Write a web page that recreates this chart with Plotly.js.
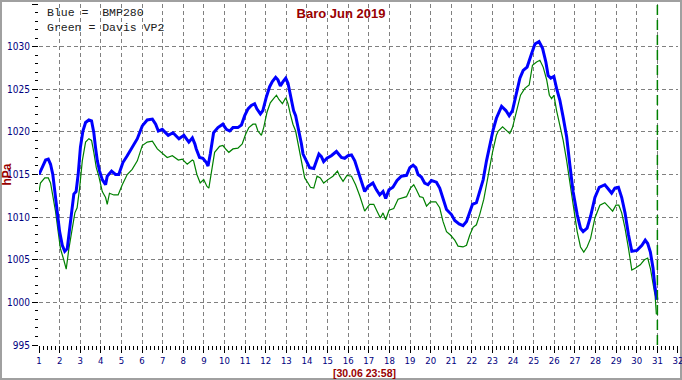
<!DOCTYPE html>
<html>
<head>
<meta charset="utf-8">
<script src="https://cdn.plot.ly/plotly-3.0.1.min.js"></script>
<style>
  html, body { margin: 0; padding: 0; background: #fff; }
  #wrap { position: relative; width: 682px; height: 380px; background: #fff; }
  #frame { position: absolute; left: 0; top: 0; width: 682px; height: 380px; box-sizing: border-box;
           border: 2px solid #a0a0a0; z-index: 0; }
  #chart { position: absolute; left: 0; top: 0; width: 682px; height: 380px; z-index: 1; }
</style>
</head>
<body>
<div id="wrap"><div id="frame"></div><div id="chart"></div></div>
<script>
// ---- data (day of month, hPa) ----
const blueDays = [1.00,1.16,1.32,1.45,1.56,1.67,1.77,1.88,2.00,2.13,2.25,2.37,2.45,2.58,2.69,2.80,2.90,3.01,3.13,3.26,3.42,3.55,3.66,3.74,3.83,3.94,4.07,4.23,4.31,4.52,4.71,4.87,5.07,5.28,5.52,5.77,6.01,6.25,6.50,6.66,6.79,6.98,7.27,7.50,7.79,8.03,8.27,8.44,8.56,8.63,8.79,8.95,9.12,9.20,9.31,9.47,9.68,9.92,10.09,10.25,10.41,10.65,10.82,10.98,11.14,11.30,11.46,11.57,11.74,11.86,12.03,12.19,12.32,12.48,12.59,12.71,12.84,12.97,13.08,13.16,13.24,13.35,13.45,13.52,13.65,13.73,13.81,13.89,14.00,14.13,14.33,14.46,14.58,14.70,14.81,14.97,15.18,15.43,15.55,15.67,15.83,15.99,16.16,16.32,16.48,16.64,16.80,16.96,17.20,17.37,17.53,17.69,17.82,17.98,18.17,18.37,18.58,18.83,18.99,19.15,19.28,19.39,19.55,19.71,19.87,20.04,20.28,20.44,20.60,20.77,21.01,21.17,21.38,21.57,21.74,21.90,22.03,22.22,22.35,22.55,22.71,22.87,23.03,23.19,23.44,23.65,23.81,23.97,24.13,24.33,24.49,24.68,24.90,25.06,25.26,25.43,25.59,25.70,25.83,25.98,26.11,26.27,26.43,26.60,26.75,26.91,27.11,27.27,27.40,27.59,27.76,27.97,28.18,28.45,28.62,28.78,28.94,29.11,29.27,29.43,29.60,29.76,30.01,30.25,30.41,30.53,30.66,30.79,30.87,30.94,30.98];
const blueHpa  = [1015.0,1015.9,1016.7,1016.8,1016.2,1015.0,1013.0,1010.7,1008.3,1006.7,1006.0,1006.3,1007.9,1010.7,1012.7,1013.0,1015.0,1018.2,1020.1,1021.1,1021.4,1021.3,1019.9,1018.2,1016.6,1015.4,1014.4,1013.8,1014.8,1015.4,1015.0,1015.0,1016.4,1017.2,1018.2,1019.2,1020.7,1021.4,1021.5,1020.9,1020.1,1020.3,1019.6,1019.9,1019.2,1019.6,1018.8,1019.3,1018.6,1018.0,1017.0,1016.9,1016.4,1016.0,1017.4,1019.9,1020.5,1020.9,1020.3,1020.1,1020.5,1020.5,1020.8,1021.9,1022.7,1023.1,1023.3,1022.7,1022.1,1022.5,1024.1,1025.3,1025.9,1026.4,1026.1,1025.4,1025.9,1026.3,1025.7,1024.7,1023.7,1022.5,1021.9,1021.1,1019.9,1018.6,1017.4,1017.0,1016.6,1015.8,1015.7,1016.7,1017.4,1017.1,1016.5,1016.9,1017.2,1017.7,1017.4,1017.0,1016.9,1017.2,1017.3,1016.6,1015.4,1014.2,1013.0,1013.6,1014.0,1013.2,1012.6,1013.0,1012.2,1013.2,1013.5,1014.3,1014.8,1014.9,1015.8,1016.1,1015.8,1015.0,1014.7,1014.0,1013.8,1014.3,1014.1,1013.4,1012.1,1010.9,1010.3,1009.6,1009.2,1009.0,1009.5,1010.5,1011.5,1011.7,1012.8,1014.4,1016.6,1018.6,1020.2,1021.6,1023.0,1022.5,1021.9,1022.5,1024.1,1026.3,1027.2,1027.6,1029.2,1030.3,1030.6,1029.8,1028.2,1026.6,1026.3,1026.5,1025.1,1023.7,1021.7,1019.4,1016.2,1013.0,1010.3,1008.7,1008.3,1008.7,1010.1,1012.3,1013.5,1013.8,1013.3,1012.8,1013.4,1013.5,1012.3,1010.5,1007.9,1006.0,1006.1,1006.7,1007.3,1006.9,1005.9,1004.0,1002.0,1000.4,1000.3];

const greenDays = [1.00,1.07,1.28,1.45,1.56,1.67,1.80,1.93,2.04,2.20,2.32,2.45,2.61,2.74,2.85,2.97,3.10,3.26,3.42,3.55,3.66,3.78,3.90,4.07,4.23,4.31,4.42,4.63,4.84,5.04,5.28,5.52,5.77,6.01,6.25,6.50,6.74,6.95,7.22,7.47,7.76,7.95,8.19,8.44,8.50,8.66,8.82,8.99,9.15,9.24,9.36,9.52,9.76,9.92,10.09,10.21,10.41,10.65,10.86,11.02,11.18,11.38,11.51,11.62,11.79,11.90,12.06,12.22,12.38,12.52,12.64,12.81,12.97,13.08,13.19,13.32,13.45,13.52,13.65,13.78,13.89,14.05,14.17,14.33,14.49,14.65,14.81,15.02,15.26,15.48,15.59,15.75,15.94,16.16,16.36,16.56,16.80,17.04,17.24,17.40,17.56,17.69,17.82,17.98,18.21,18.42,18.66,18.83,19.02,19.18,19.31,19.47,19.63,19.80,19.99,20.25,20.44,20.60,20.77,20.96,21.17,21.33,21.57,21.74,21.90,22.06,22.22,22.38,22.58,22.79,23.00,23.19,23.28,23.49,23.69,23.84,23.97,24.17,24.36,24.57,24.78,24.94,25.14,25.30,25.46,25.63,25.76,25.87,25.98,26.11,26.27,26.43,26.60,26.75,26.91,27.11,27.27,27.43,27.59,27.76,27.97,28.21,28.45,28.66,28.83,28.99,29.13,29.27,29.43,29.60,29.76,29.92,30.17,30.37,30.53,30.66,30.79,30.89,30.95];
const greenHpa  = [1013.0,1014.0,1014.6,1014.6,1014.0,1012.6,1010.7,1008.3,1006.3,1005.0,1003.9,1006.3,1008.7,1010.5,1011.1,1013.4,1016.6,1018.8,1019.2,1019.0,1017.6,1015.8,1014.8,1013.0,1012.3,1011.5,1012.8,1012.6,1012.6,1013.8,1015.0,1015.6,1016.6,1018.4,1018.8,1018.9,1018.0,1017.6,1017.0,1017.2,1016.7,1016.8,1016.2,1016.7,1016.6,1015.0,1014.0,1014.4,1013.6,1013.4,1015.4,1017.6,1018.3,1018.4,1017.9,1017.6,1018.0,1018.1,1018.6,1019.7,1020.5,1020.9,1020.9,1020.1,1019.6,1020.5,1022.3,1023.4,1023.9,1024.3,1023.8,1023.3,1024.0,1023.3,1022.1,1020.9,1020.1,1019.2,1017.8,1016.2,1014.6,1014.0,1013.5,1013.4,1014.8,1014.6,1014.0,1014.4,1014.8,1015.4,1014.8,1014.2,1014.9,1014.8,1013.8,1012.5,1010.7,1011.5,1011.5,1010.7,1009.9,1010.5,1009.7,1010.8,1011.0,1012.1,1012.3,1012.4,1013.4,1013.8,1013.2,1012.4,1012.3,1011.3,1011.8,1011.8,1011.1,1009.5,1008.3,1007.9,1007.3,1006.6,1006.5,1006.7,1007.9,1008.8,1009.1,1010.3,1012.1,1015.0,1017.6,1019.6,1020.1,1020.6,1020.1,1019.8,1020.5,1022.5,1024.3,1025.1,1025.5,1027.8,1028.2,1028.4,1027.6,1026.1,1024.3,1023.9,1024.3,1022.5,1020.9,1019.0,1016.6,1014.2,1011.1,1008.3,1006.5,1005.9,1006.5,1007.5,1009.9,1011.4,1011.7,1011.1,1010.7,1011.4,1011.4,1010.5,1008.7,1006.3,1003.8,1004.0,1004.4,1005.0,1005.2,1004.0,1002.0,1000.8,998.6];

const markerDay = [31, 31];        // current-time marker (30.06 23:58)
const yRange = [995, 1035];
const xRange = [1, 32.0005];
const xTickDays = [1,2,3,4,5,6,7,8,9,10,11,12,13,14,15,16,17,18,19,20,21,22,23,24,25,26,27,28,29,30,31,32];
const gridDays = [2,3,4,5,6,7,8,9,10,11,12,13,14,15,16,17,18,19,20,21,22,23,24,25,26,27,28,29,30,31];
const gridHpa = [1000, 1005, 1010, 1015, 1020, 1025, 1030];
const titleText = 'Baro Jun 2019';
const legendLines = ['Blue =\u00a0 BMP280', 'Green = Davis VP2'];
const stampText = '[30.06 23:58]';
const yTitle = 'hPa';

const darkRed = '#990000';
const navy = '#000080';
const gridCol = '#808080';
const tickFontFam = 'Liberation Sans Narrow, DejaVu Sans Condensed, Arial, sans-serif';

const traces = [
  { x: greenDays, y: greenHpa, type: 'scatter', mode: 'lines',
    line: { color: '#008000', width: 1.2 }, hoverinfo: 'skip' },
  { x: blueDays, y: blueHpa, type: 'scatter', mode: 'lines',
    line: { color: '#0000ff', width: 3 }, hoverinfo: 'skip' },
  { x: markerDay, y: yRange, xaxis: 'x2', yaxis: 'y2', type: 'scatter', mode: 'lines',
    line: { color: '#008000', width: 1.5, dash: '10px,5px' }, hoverinfo: 'skip' }
];

const layout = {
  width: 682, height: 380,
  margin: { l: 39, r: 4, t: 4, b: 35 },
  paper_bgcolor: 'rgba(0,0,0,0)', plot_bgcolor: 'rgba(0,0,0,0)',
  showlegend: false,
  font: { family: 'Liberation Sans, Arial, sans-serif' },
  title: { text: '<b>' + titleText + '</b>', x: 0.5, xref: 'container', xanchor: 'center',
           y: 1 - 13 / 380, yref: 'container', yanchor: 'middle',
           font: { family: 'Liberation Sans, Arial, sans-serif', size: 13, color: darkRed } },
  xaxis: {
    range: xRange, tickmode: 'array', tickvals: xTickDays, ticktext: xTickDays.map(String),
    ticks: 'outside', ticklen: 7, tickcolor: '#000', tickwidth: 1, ticklabeloverflow: 'allow',
    tickfont: { family: tickFontFam, size: 9.5, color: navy },
    showgrid: false, zeroline: false, showline: false,
    minor: { dtick: 0.2, tick0: 1, ticks: 'outside', ticklen: 4, tickcolor: '#000', showgrid: false }
  },
  yaxis: {
    range: yRange, tick0: 995, dtick: 5, ticks: 'outside', ticklen: 6, tickcolor: '#000', tickwidth: 1,
    tickfont: { family: tickFontFam, size: 10, color: navy },
    showgrid: false, zeroline: false, showline: false,
    minor: { dtick: 1, tick0: 995, ticks: 'outside', ticklen: 3, tickcolor: '#000', showgrid: false },
    title: { text: '<b>' + yTitle + '</b>', standoff: 3,
             font: { family: 'Liberation Sans, Arial, sans-serif', size: 12, color: darkRed } }
  },
  xaxis2: {
    overlaying: 'x', anchor: 'y2', range: xRange, tickmode: 'array', tickvals: gridDays,
    ticks: '', showticklabels: false, showgrid: true, gridcolor: gridCol, griddash: '4px,3px',
    gridwidth: 1, zeroline: false, showline: false
  },
  yaxis2: {
    overlaying: 'y', anchor: 'x2', range: yRange, tickmode: 'array', tickvals: gridHpa,
    ticks: '', showticklabels: false, showgrid: true, gridcolor: gridCol, griddash: '4px,3px',
    gridwidth: 1, zeroline: false, showline: false
  },
  annotations: [
    { text: legendLines[0], xref: 'paper', yref: 'paper', x: 0.009, y: (345 - 13) / 341,
      xanchor: 'left', yanchor: 'middle', showarrow: false,
      font: { family: 'Liberation Mono, Courier New, monospace', size: 11.5, color: '#202020' } },
    { text: legendLines[1], xref: 'paper', yref: 'paper', x: 0.009, y: (345 - 27) / 341,
      xanchor: 'left', yanchor: 'middle', showarrow: false,
      font: { family: 'Liberation Mono, Courier New, monospace', size: 11.5, color: '#202020' } },
    { text: '<b>' + stampText + '</b>', xref: 'paper', yref: 'paper', x: 0.509, y: (345 - 372.5) / 341,
      xanchor: 'center', yanchor: 'middle', showarrow: false,
      font: { family: 'Liberation Sans, Arial, sans-serif', size: 10.5, color: darkRed } }
  ]
};

Plotly.newPlot('chart', traces, layout, { staticPlot: true, displayModeBar: false });
</script>
</body>
</html>
